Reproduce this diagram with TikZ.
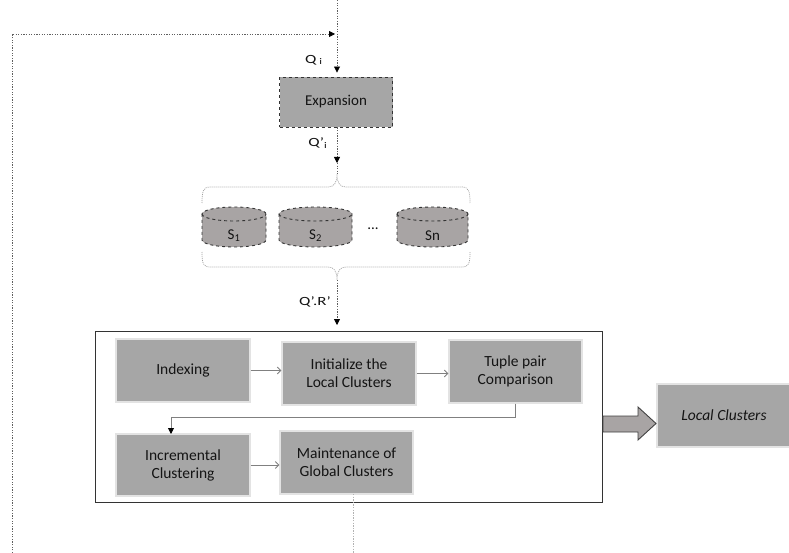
\documentclass[tikz,border=0pt]{standalone}
\usepackage{fontspec}
\setmainfont{Carlito}
\usetikzlibrary{arrows.meta,calc}
\definecolor{boxgray}{RGB}{166,166,166}
\definecolor{cylgray}{RGB}{168,164,164}
\definecolor{dotcol}{RGB}{95,95,95}
\definecolor{linegray}{RGB}{128,128,128}
\tikzset{
  procbox/.style={draw=gray!22,line width=1.1pt,fill=boxgray,minimum width=134pt,minimum height=63pt,inner sep=0pt,align=center,font=\fontsize{15.5}{18}\selectfont,text=black!92},
  expbox/.style={draw=black!80,dashed,line width=0.9pt,fill=boxgray,minimum width=113pt,minimum height=50pt,inner sep=0pt,font=\fontsize{15}{18}\selectfont,text=black!92},
  mainbox/.style={draw=black!80,line width=1pt,fill=white,minimum width=507pt,minimum height=171pt,inner sep=0pt},
  dotline/.style={draw=dotcol,line width=0.8pt,dash pattern=on 1.3pt off 1.3pt},
  dotarrow/.style={dotline,-{Triangle[length=6pt,width=6pt,color=black]}},
  innerarr/.style={draw=linegray,line width=0.9pt,-{Straight Barb[length=3.5pt,width=7pt,color=linegray]}},
  turnarr/.style={draw=linegray,line width=0.9pt,-{Triangle[length=6pt,width=6pt,color=black]}},
  cyl/.style={fill=cylgray,draw=black!80,dashed,line width=0.9pt},
  lbl/.style={font=\fontsize{12.5}{14}\selectfont,text=black!92,inner sep=0pt},
  cyltxt/.style={font=\fontsize{15}{18}\selectfont,text=black!92,inner sep=0pt},
  brace/.style={draw=gray!75,line width=0.7pt,dash pattern=on 1pt off 1pt}
}
\newcommand\dbcyl[4]{% name, xleft, xright, label
  \pgfmathsetmacro\rx{(#3-#2)/2}
  \path[cyl] (#2,-214) -- (#2,-240) arc[start angle=180,end angle=360,x radius=\rx,y radius=7] -- (#3,-214) arc[start angle=0,end angle=180,x radius=\rx,y radius=7] -- cycle;
  \draw[cyl,fill=none] (#2,-214) arc[start angle=180,end angle=360,x radius=\rx,y radius=7];
  \node[cyltxt] (#1) at ({(#2+#3)/2},-236) {#4};
}
\begin{document}
\begin{tikzpicture}[x=1pt,y=1pt]
\useasboundingbox (0,0) rectangle (789,-553);

% top input and Expansion
\node[expbox] (exp) at (336,-102) {Expansion};
\coordinate (top) at (337,0);
\draw[dotarrow,shorten >=4pt] (top) -- (top |- exp.north);
\node[lbl] (qi) at (314,-60) {\scalebox{1.35}[1]{Q\,\textsubscript{i}}};

% feedback loop
\coordinate (fb0) at (12,-553);
\coordinate (fb1) at (12,-34);
\coordinate (fbtip) at (335,-34);
\draw[dotarrow] (fb0) -- (fb1) -- (fbtip);

% Expansion -> sources
\coordinate (qa) at (337,-163);
\coordinate (bt) at (337,-174);
\draw[dotarrow] (exp.south -| qa) -- (qa);
\draw[dotline] (qa) -- (bt);
\node[lbl] (qpi) at (318,-143) {\scalebox{1.35}[1]{Q’\textsubscript{i}}};

% braces
\draw[brace] (202,-203) .. controls (202,-192) and (203,-187) .. (210,-187) -- (328,-187) .. controls (334,-187) and (337,-183) .. (bt) .. controls (337,-183) and (340,-187) .. (346,-187) -- (462,-187) .. controls (469,-187) and (470,-192) .. (470,-203);
\coordinate (bb) at (337,-280);
\draw[brace] (202,-252) .. controls (202,-263) and (203,-267) .. (210,-267) -- (328,-267) .. controls (334,-267) and (337,-271) .. (bb) .. controls (337,-271) and (340,-267) .. (346,-267) -- (462,-267) .. controls (469,-267) and (470,-263) .. (470,-252);

% cylinders
\dbcyl{s1}{202}{266}{S\textsubscript{1}}
\dbcyl{s2}{279}{352}{S\textsubscript{2}}
\dbcyl{sn}{397}{468}{Sn}
\node[cyltxt] (dots) at (373,-229) {...};

% to main box
\node[mainbox] (main) at (348.5,-416.5) {};
\coordinate (qb) at (337,-325);
\draw[dotarrow] (bb) -- (qb);
\node[lbl] (qr) at (315,-302) {\scalebox{1.35}[1]{Q’.R’}};

% inner boxes
\node[procbox] (idx) at (183,-370.5) {Indexing};
\node[procbox] (init) at (349,-373.5) {Initialize the\\Local Clusters};
\node[procbox,minimum width=133pt] (tup) at (515.5,-371.5) {Tuple pair\\Comparison};
\node[procbox,minimum height=62pt] (inc) at (183,-465) {Incremental\\Clustering};
\node[procbox,minimum width=133pt] (mnt) at (346.5,-462.5) {Maintenance of\\Global Clusters};

\draw[innerarr] (idx.east) -- (idx.east -| init.west);
\draw[innerarr] (init.east) -- (init.east -| tup.west);
\coordinate (incin) at (171,-434);
\draw[turnarr] (tup.south) -- ++(0,-14) -| (incin);
\draw[innerarr] (inc.east) -- (inc.east -| mnt.west);

% output from maintenance
\coordinate (mb) at (353,-494);
\coordinate (me) at (353,-553);
\draw[dotline,draw=gray!60] (mb) -- (me);

% local clusters
\node[procbox,font=\fontsize{15.5}{18}\selectfont\itshape,minimum width=140pt] (loc) at (727,-415.5) {\hspace*{-6pt}Local Clusters};
\draw[fill=cylgray,draw=black!75,line width=0.9pt] (603,-416) -- (638,-416) -- (638,-407) -- (656,-423.5) -- (638,-440) -- (638,-432) -- (603,-432) -- cycle;
\end{tikzpicture}
\end{document}
